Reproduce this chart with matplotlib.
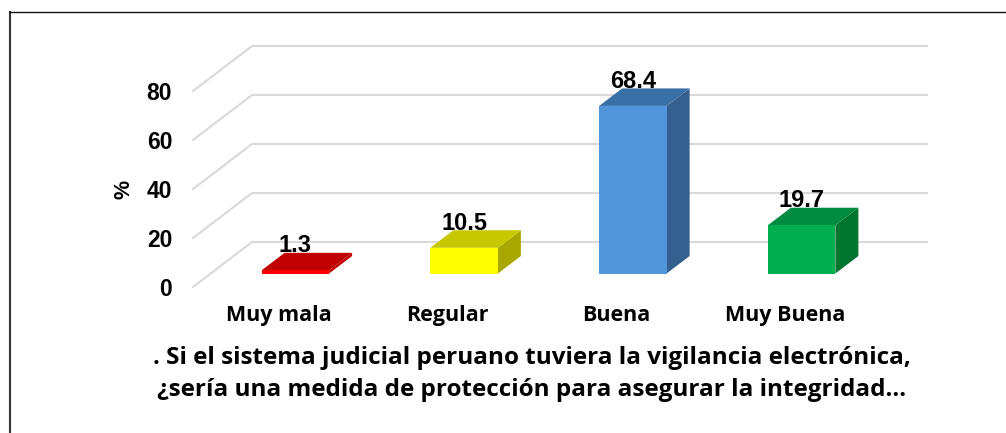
import matplotlib
matplotlib.use("Agg")
import matplotlib.pyplot as plt
from matplotlib.lines import Line2D
from matplotlib.patches import Polygon
from matplotlib.transforms import ScaledTranslation

categories = ["Muy mala", "Regular", "Buena", "Muy Buena"]
values = [1.3, 10.5, 68.4, 19.7]
y_ticks = [0, 20, 40, 60, 80]
front_colors = ["#FF0000", "#FFFF00", "#5295DB", "#00B050"]
top_colors = ["#C00000", "#C8C800", "#3A70A8", "#008C40"]
side_colors = ["#C00000", "#A8A800", "#33608E", "#00752F"]
x_title = ". Si el sistema judicial peruano tuviera la vigilancia electrónica,\n¿sería una medida de protección para asegurar la integridad…"

W, H = 1006, 433
PXW = 168.75      # pixels per category
PXV = 2.45        # pixels per value unit
L, R, B, T = 193, 927, 287, 46
DEPTH_X, DEPTH_Y = 59 / PXW, 45 / PXV
BAR_W = 67.5 / PXW
BAR_DX, BAR_DY = 23 / PXW, 17.5 / PXV
GAP_X, GAP_Y = 18 / PXW, 13.5 / PXV

fig = plt.figure(figsize=(W / 100, H / 100), dpi=100, facecolor="white")
ax = fig.add_axes([L / W, 1 - B / H, (R - L) / W, (B - T) / H])
ax.set_xlim(-0.5, 3.5 + DEPTH_X)
ax.set_ylim(0, (B - T) / PXV)
ax.patch.set_visible(False)
for s in ax.spines.values():
    s.set_visible(False)

FONT = "Liberation Sans"
TEXT_FONT = "Open Sans"
for v in y_ticks:
    xs = [-0.5, -0.5 + DEPTH_X, 3.5 + DEPTH_X]
    ys = [v, v + DEPTH_Y, v + DEPTH_Y]
    ax.plot(xs, ys, color="#D9D9D9", lw=1.5, solid_joinstyle="miter", zorder=1, clip_on=False)

for i, v in enumerate(values):
    x0 = i - BAR_W / 2 + GAP_X
    x1 = x0 + BAR_W
    y0 = GAP_Y
    y1 = y0 + v
    ax.add_patch(Polygon([(x1, y0), (x1 + BAR_DX, y0 + BAR_DY), (x1 + BAR_DX, y1 + BAR_DY), (x1, y1)],
                         closed=True, fc=side_colors[i], ec="none", zorder=3))
    ax.add_patch(Polygon([(x0, y1), (x1, y1), (x1 + BAR_DX, y1 + BAR_DY), (x0 + BAR_DX, y1 + BAR_DY)],
                         closed=True, fc=top_colors[i], ec="none", zorder=3))
    ax.add_patch(Polygon([(x0, y0), (x1, y0), (x1, y1), (x0, y1)],
                         closed=True, fc=front_colors[i], ec="none", zorder=4))
    ax.annotate(f"{v}", xy=((x0 + x1) / 2, y1 + BAR_DY), xytext=(0, 0.3), textcoords="offset points",
                ha="center", va="baseline", fontsize=17, fontweight="bold", family=FONT, color="black", zorder=5)

ax.set_xticks(range(len(categories)), categories)
ax.set_yticks(y_ticks)
ax.tick_params(axis="both", length=0)
ax.tick_params(axis="y", pad=15, labelsize=16.5)
ax.tick_params(axis="x", pad=13, labelsize=15.5)
for t in ax.get_yticklabels():
    t.set_fontweight("bold"); t.set_family(FONT)
shift = ScaledTranslation(1.5 / 100, 0, fig.dpi_scale_trans)
for t in ax.get_xticklabels():
    t.set_fontweight("bold"); t.set_family(TEXT_FONT)
    t.set_transform(t.get_transform() + shift)

ax.set_ylabel("%", fontsize=15.5, fontweight="bold", family=FONT)
ax.yaxis.set_label_coords((135 - L) / (R - L), (B - 189) / (B - T))
ax.set_xlabel(x_title, fontsize=17.5, fontweight="bold", family=TEXT_FONT, linespacing=1.43, ha="center", va="center")
ax.xaxis.set_label_coords((532 - L) / (R - L), (B - 374) / (B - T))

fig.add_artist(Line2D([10 / W, 10 / W], [0, 1 - 11.5 / H], color="#333333", lw=1.5, transform=fig.transFigure))
fig.add_artist(Line2D([9.5 / W, 1], [1 - 11.5 / H, 1 - 11.5 / H], color="#111111", lw=1.0, transform=fig.transFigure))

fig.savefig("out.png", dpi=100, facecolor="white")
